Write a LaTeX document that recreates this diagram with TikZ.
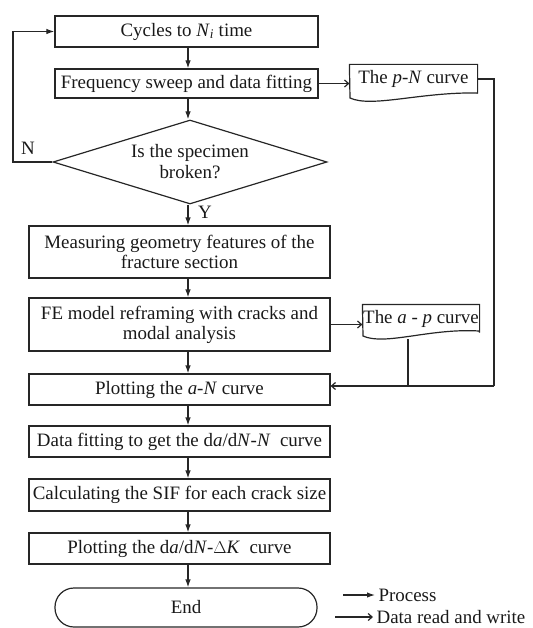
\documentclass[tikz,border=0pt]{standalone}
\usepackage{fontspec}
\setmainfont{Liberation Serif}
\usetikzlibrary{arrows.meta,shapes.geometric,calc}
\begin{document}
\begin{tikzpicture}[x=1bp,y=-1bp, line width=1.2bp, draw=black!85,
  txt/.style={font=\fontsize{19}{21}\selectfont, text=black!90},
  box/.style={txt, draw, rectangle, inner sep=0pt, align=center},
  mainbox/.style={box, minimum width=301bp},
  doctxt/.style={txt, rectangle, inner sep=0pt, align=center},
  proc/.style={-{Latex[length=8bp,width=5.5bp]}},
  data/.style={-{Straight Barb[length=4bp,width=7bp]}},
  ]
\useasboundingbox (0,0) rectangle (533,628);

% process boxes
\node[box, minimum width=263bp, minimum height=31bp] (b1) at (186.5,31.5) {Cycles to \textit{N}\textsubscript{\textit{i}} time};
\node[box, minimum width=263bp, minimum height=29bp] (b2) at (186.5,83.5) {Frequency sweep and data fitting};
\node[txt, draw, shape=diamond, inner sep=0pt, aspect=3.2, minimum width=274bp, minimum height=84bp, align=center] (dia) at (190,162) {Is the specimen\\[0pt]broken?};
\node[mainbox, minimum height=52bp] (b3) at (179.5,252) {Measuring geometry features of the\\[-1pt]fracture section};
\node[mainbox, minimum height=53bp] (b4) at (179.5,324.5) {FE model reframing with cracks and\\[-1pt]modal analysis};
\node[mainbox, minimum height=31bp] (b5) at (179.5,389.5) {Plotting the \textit{a}-\textit{N} curve};
\node[mainbox, minimum height=31bp] (b6) at (179.5,441.5) {Data fitting to get the d\textit{a}/d\textit{N}-\textit{N}\ \ curve};
\node[mainbox, minimum height=32bp] (b7) at (179.5,495) {Calculating the SIF for each crack size};
\node[mainbox, minimum height=31bp] (b8) at (179.5,548.5) {Plotting the d\textit{a}/d\textit{N}-$\Delta$\textit{K}\ \ curve};
\node[box, rounded corners=19bp, minimum width=262bp, minimum height=39bp] (endn) at (186,607.5) {End};

% documents
\node[doctxt, minimum width=127bp, minimum height=28bp] (pn) at (413.5,79) {The \textit{p}-\textit{N} curve};
\draw (pn.south east) -- (pn.north east) -- (pn.north west) -- (350,98)
  .. controls (372,108) and (420,92) .. (477,93) -- (pn.south east);
\node[doctxt, minimum width=116bp, minimum height=27bp] (ap) at (421,318.5) {The \textit{a} - \textit{p} curve};
\draw (ap.south east) -- (ap.north east) -- (ap.north west) -- (363,336)
  .. controls (385,346) and (430,328) .. (479,331) -- (ap.south east);

% vertical process arrows
\coordinate (ax) at (188,0);
\draw[proc] (b1.south -| ax) -- (b2.north -| ax);
\draw[proc] (b2.south -| ax) -- (dia.north -| ax);
\draw[proc] (dia.south -| ax) -- (b3.north -| ax);
\draw[proc] (b3.south -| ax) -- (b4.north -| ax);
\draw[proc] (b4.south -| ax) -- (b5.north -| ax);
\draw[proc] (b5.south -| ax) -- (b6.north -| ax);
\draw[proc] (b6.south -| ax) -- (b7.north -| ax);
\draw[proc] (b7.south -| ax) -- (b8.north -| ax);
\draw[proc] (b8.south -| ax) -- (endn.north -| ax);

% loop back (N)
\coordinate (lx) at (13,0);
\draw[proc] (dia.west) -- (dia.west -| lx) -- (b1.west -| lx) -- (b1.west);
\node[txt] (nlab) at (28,148) {N};
\node[txt] (ylab) at (205,212) {Y};

% data flows
\draw[data] (b2.east) -- (b2.east -| pn.west);
\draw[data] (b4.east) -- (b4.east -| ap.west);
\coordinate (rr) at (494,386);
\coordinate (jn) at (408,386);
\coordinate (apb) at (408,339);
\draw (pn.east) -| (rr);
\draw[data] (rr) -- (rr -| b5.east);
\draw (apb) -- (jn);

% legend
\coordinate (lp1) at (343,595);
\coordinate (lp2) at (375,595);
\draw[proc] (lp1) -- (lp2);
\node[txt, anchor=base west, inner sep=0pt] (lproc) at (378,601) {Process};
\coordinate (ld1) at (335,617);
\coordinate (ld2) at (373,617);
\draw[data] (ld1) -- (ld2);
\node[txt, anchor=base west, inner sep=0pt] (ldata) at (376,623) {Data read and write};
\end{tikzpicture}
\end{document}
